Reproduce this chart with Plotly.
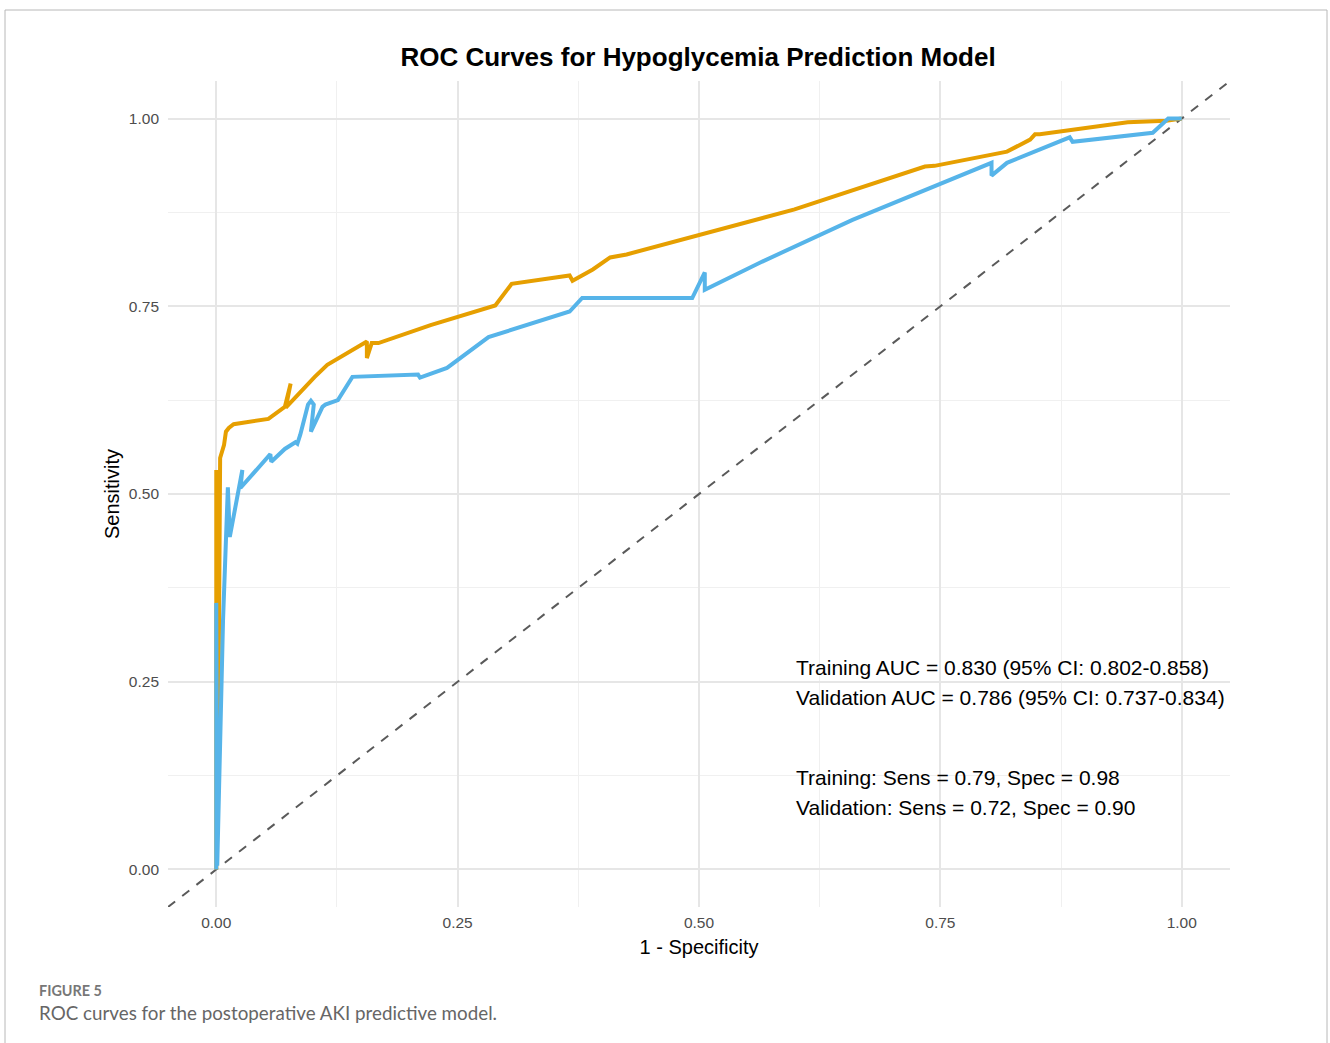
import plotly.graph_objects as go

# Training curve (1 - specificity, sensitivity)
train_fpr = [0, 0, 0, 0.002, 0.004, 0.008, 0.010, 0.013, 0.018, 0.054, 0.071, 0.077, 0.072,
             0.102, 0.115, 0.156, 0.156, 0.161, 0.168, 0.222, 0.289, 0.306, 0.366, 0.369,
             0.390, 0.408, 0.425, 0.599, 0.734, 0.744, 0.819, 0.843, 0.848, 0.853, 0.944,
             0.984, 1.0]
train_tpr = [0, 0.532, 0.356, 0.163, 0.548, 0.565, 0.583, 0.588, 0.593, 0.600, 0.616, 0.647,
             0.615, 0.656, 0.672, 0.703, 0.681, 0.701, 0.701, 0.725, 0.751, 0.780, 0.791,
             0.784, 0.799, 0.815, 0.819, 0.879, 0.936, 0.937, 0.956, 0.972, 0.979, 0.979,
             0.995, 0.997, 1.0]

# Validation curve
valid_fpr = [0, 0, 0.001, 0.007, 0.012, 0.014, 0.027, 0.025, 0.056, 0.057, 0.068, 0.071,
             0.082, 0.084, 0.087, 0.095, 0.098, 0.101, 0.098, 0.110, 0.113, 0.126, 0.141,
             0.209, 0.211, 0.239, 0.282, 0.366, 0.379, 0.493, 0.506, 0.506, 0.563, 0.659,
             0.803, 0.803, 0.819, 0.884, 0.887, 0.970, 0.986, 1.0]
valid_tpr = [0, 0.355, 0.005, 0.332, 0.509, 0.443, 0.532, 0.508, 0.553, 0.543, 0.557, 0.560,
             0.569, 0.567, 0.579, 0.619, 0.624, 0.619, 0.583, 0.616, 0.619, 0.625, 0.656,
             0.659, 0.655, 0.668, 0.709, 0.743, 0.761, 0.761, 0.795, 0.772, 0.808, 0.865,
             0.941, 0.924, 0.941, 0.975, 0.969, 0.981, 1.0, 1.0]

ref_line = [-0.05, 1.05]
tick_vals = [0, 0.25, 0.5, 0.75, 1.0]
tick_text = ["0.00", "0.25", "0.50", "0.75", "1.00"]

annot_lines = [
    ("Training AUC = 0.830 (95% CI: 0.802-0.858)", 0.269),
    ("Validation AUC = 0.786 (95% CI: 0.737-0.834)", 0.229),
    ("Training: Sens = 0.79, Spec = 0.98", 0.122),
    ("Validation: Sens = 0.72, Spec = 0.90", 0.082),
]

fig = go.Figure()
fig.add_trace(go.Scatter(x=ref_line, y=ref_line, mode="lines",
                         line=dict(color="#5a5a5a", width=2, dash="dash"),
                         showlegend=False, hoverinfo="skip"))
fig.add_trace(go.Scatter(x=train_fpr, y=train_tpr, mode="lines",
                         line=dict(color="#E69F00", width=4), showlegend=False))
fig.add_trace(go.Scatter(x=valid_fpr, y=valid_tpr, mode="lines",
                         line=dict(color="#56B4E9", width=4), showlegend=False))

for txt, yv in annot_lines:
    fig.add_annotation(x=0.598, y=yv, xref="x", yref="y", text=txt, showarrow=False,
                       xanchor="left", yanchor="middle",
                       font=dict(family="Liberation Sans, Arial", size=21, color="black"))

W, H = 1330, 1043
L, R, T, B = 168, 100, 81, 136
pw, ph = W - L - R, H - T - B

def px(x):
    return (x - L) / pw

def py(y):
    return (H - B - y) / ph

# Outer frame
fig.add_shape(type="rect", xref="paper", yref="paper",
              x0=px(5), x1=px(1327), y0=py(1060), y1=py(10),
              line=dict(color="#b8b8b8", width=1), layer="below")

fig.add_annotation(xref="paper", yref="paper", x=px(37), y=py(990), text="<b>FIGURE 5</b>",
                   showarrow=False, xanchor="left", yanchor="middle",
                   font=dict(family="Lato, Open Sans", size=14.4, color="#777777"))
fig.add_annotation(xref="paper", yref="paper", x=px(37), y=py(1012),
                   text="ROC curves for the postoperative AKI predictive model.",
                   showarrow=False, xanchor="left", yanchor="middle",
                   font=dict(family="Lato, Open Sans", size=18.8, color="#666666"))

fig.update_layout(
    width=W, height=H,
    margin=dict(l=L, r=R, t=T, b=B),
    paper_bgcolor="white", plot_bgcolor="white",
    title=dict(text="<b>ROC Curves for Hypoglycemia Prediction Model</b>",
               xref="container", yref="container",
               x=698 / W, xanchor="center", y=1 - 57 / H, yanchor="middle",
               font=dict(family="Liberation Sans, Arial", size=26, color="black")),
    xaxis=dict(range=[-0.05, 1.05], tickvals=tick_vals, ticktext=tick_text,
               showgrid=True, gridcolor="#e6e6e6", gridwidth=1.8,
               minor=dict(tickvals=[0.125, 0.375, 0.625, 0.875], showgrid=True,
                          gridcolor="#f0f0f0", gridwidth=1),
               zeroline=False, showline=False, ticks="", ticklabelstandoff=4,
               tickfont=dict(family="Liberation Sans, Arial", size=15.5, color="#4d4d4d"),
               title=dict(text="1 - Specificity", standoff=10,
                          font=dict(family="Liberation Sans, Arial", size=20, color="black"))),
    yaxis=dict(range=[-0.05, 1.05], tickvals=tick_vals, ticktext=tick_text,
               showgrid=True, gridcolor="#e6e6e6", gridwidth=1.8,
               minor=dict(tickvals=[0.125, 0.375, 0.625, 0.875], showgrid=True,
                          gridcolor="#f0f0f0", gridwidth=1),
               zeroline=False, showline=False, ticks="", ticklabelstandoff=8,
               tickfont=dict(family="Liberation Sans, Arial", size=15.5, color="#4d4d4d"),
               title=dict(text="Sensitivity", standoff=3,
                          font=dict(family="Liberation Sans, Arial", size=20, color="black"))),
)

fig.write_html("out.html")
